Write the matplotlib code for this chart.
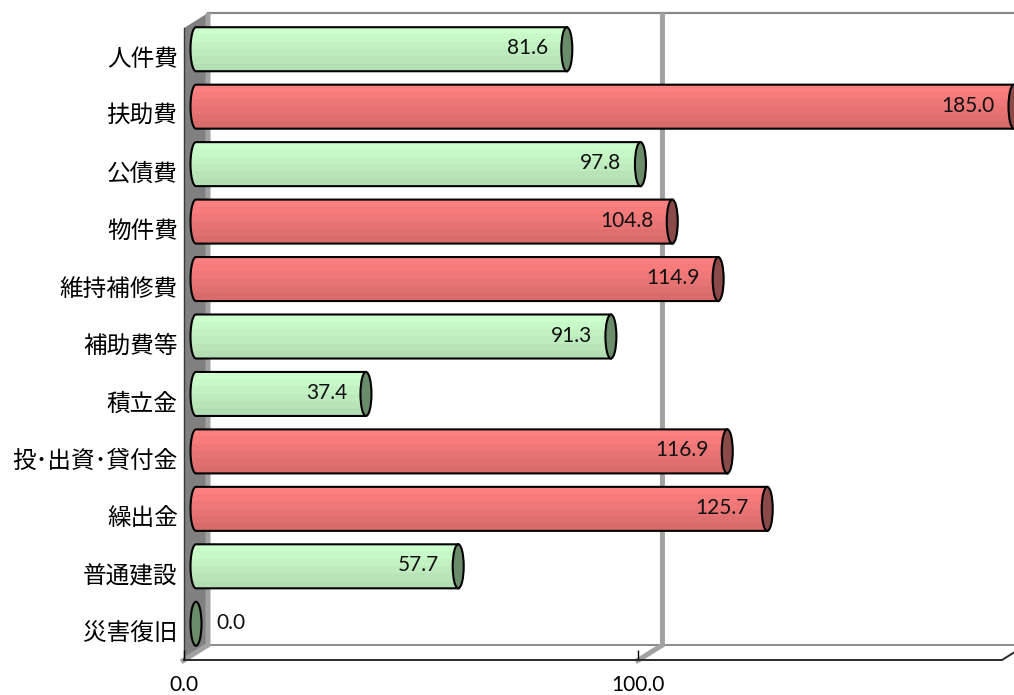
import numpy as np
import matplotlib
matplotlib.use("Agg")
import matplotlib.pyplot as plt
from matplotlib.patches import Polygon, Ellipse, Rectangle
from matplotlib.lines import Line2D
from matplotlib.transforms import IdentityTransform

# ---- data -------------------------------------------------------------
categories = ["人件費", "扶助費", "公債費", "物件費", "維持補修費", "補助費等",
              "積立金", "投･出資･貸付金", "繰出金", "普通建設", "災害復旧"]
values = [81.6, 185.0, 97.8, 104.8, 114.9, 91.3, 37.4, 116.9, 125.7, 57.7, 0.0]
x_ticks = [0, 100]
x_tick_labels = ["0.0", "100.0"]
x_max = 180

# ---- style ------------------------------------------------------------
CJK = ["Noto Sans CJK JP", "DejaVu Sans"]
NUM = ["Lato", "DejaVu Sans"]
GREEN_TOP, GREEN_BOT, GREEN_CAP = (0.80, 1.00, 0.80), (0.70, 0.87, 0.70), "#6b8c6b"
RED_TOP, RED_BOT, RED_CAP = (1.00, 0.50, 0.50), (0.85, 0.42, 0.42), "#8a4a4a"
DEPTH = np.array([24.0, 15.0])   # pixel shift from front plane to back wall
BAR_REL_H = 0.766
CAP_RX = 5.5
N_BANDS = 6

W, H, DPI = 1014, 695, 100
fig = plt.figure(figsize=(W / DPI, H / DPI), dpi=DPI)
ax = fig.add_axes([184 / W, 35 / H, 818 / W, 632 / H])
n = len(categories)
ax.set_xlim(0, x_max)
ax.set_ylim(n - 0.5, -0.5)
for s in ax.spines.values():
    s.set_visible(False)
ax.patch.set_visible(False)

ax.set_yticks(range(n))
ax.set_yticklabels(categories, fontsize=17, family=CJK)
ax.tick_params(axis="y", length=0, pad=4.5)
ax.set_xticks(x_ticks)
ax.set_xticklabels(x_tick_labels, fontsize=15, family=NUM)
ax.tick_params(axis="x", direction="in", length=7, width=1, color="black", pad=11)

ID = IdentityTransform()


def P(x, y, d=0.0):
    px, py = ax.transData.transform((x, y))
    return np.array([px, py]) + d * DEPTH


def add(artist):
    ax.add_artist(artist)
    artist.set_clip_box(None)
    artist.set_clip_path(None)
    return artist


def polyline(pts, **kw):
    pts = np.asarray(pts)
    return add(Line2D(pts[:, 0], pts[:, 1], transform=ID, **kw))


top, bot = -0.5, n - 0.5

# left wall
add(Polygon([P(0, top, 0), P(0, top, 1), P(0, bot, 1), P(0, bot, 0)],
            closed=True, facecolor="#808080", edgecolor="none",
            transform=ID, zorder=1))
polyline([P(0, top, 0), P(0, bot, 0)], color="#3a3a3a", lw=1.0, zorder=1.5)

# back wall edges and floor
polyline([P(0, top, 1), P(x_max, top, 1)], color="#8a8a8a", lw=1.6, zorder=1)
polyline([P(0, bot, 1), P(x_max, bot, 1)], color="#8a8a8a", lw=1.4, zorder=1)
polyline([P(0, bot, 0), P(x_max, bot, 0), P(x_max, bot, 0.5)],
         color="#2a2a2a", lw=1.4, zorder=1.6)

# gridlines: vertical on the back wall, diagonal across the floor
for t in x_ticks:
    polyline([P(t, top, 1), P(t, bot, 1), P(t, bot, -0.12)],
             color="#a2a2a2", lw=3.6, solid_joinstyle="miter",
             solid_capstyle="butt", zorder=1.2)

# cylinders
for i, v in enumerate(values):
    red = v > 100
    c_top, c_bot, c_cap = (RED_TOP, RED_BOT, RED_CAP) if red else (GREEN_TOP, GREEN_BOT, GREEN_CAP)
    x0, cy = P(0, i, 0.5)
    x1 = P(min(v, x_max), i, 0.5)[0]
    hh = abs(P(0, i + BAR_REL_H / 2)[1] - P(0, i - BAR_REL_H / 2)[1]) / 2
    if x1 - x0 > 0.5:
        th = np.linspace(np.pi / 2, 3 * np.pi / 2, 40)
        arc = np.column_stack([x0 + CAP_RX * np.cos(th), cy + hh * np.sin(th)])
        outline = np.vstack([[x1, cy + hh], arc, [x1, cy - hh]])
        body = add(Polygon(outline, closed=True, facecolor="none", edgecolor="none",
                           transform=ID, zorder=3))
        band_h = 2 * hh / N_BANDS
        for k in range(N_BANDS):
            f = k / (N_BANDS - 1)
            col = tuple(np.array(c_top) * (1 - f) + np.array(c_bot) * f)
            r = add(Rectangle((x0 - CAP_RX - 1, cy + hh - (k + 1) * band_h - 0.3),
                              x1 - x0 + CAP_RX + 2, band_h + 0.6,
                              facecolor=col, edgecolor="none", transform=ID, zorder=3))
            r.set_clip_on(True)
            r.set_clip_path(body)
        polyline(outline, color="black", lw=1.5, zorder=4)
    add(Ellipse((x1, cy), 2 * CAP_RX, 2 * hh, facecolor=c_cap,
                edgecolor="black", lw=1.5, transform=ID, zorder=5))
    if x1 - x0 > 40:
        ax.text(x1 - 19, cy + 1, f"{v:.1f}", ha="right", va="center",
                fontsize=15, family=NUM, color="#111111", transform=ID, zorder=6)
    else:
        ax.text(x1 + 20, cy + 1, f"{v:.1f}", ha="left", va="center",
                fontsize=15, family=NUM, color="#111111", transform=ID, zorder=6)

fig.savefig("out.png", dpi=DPI)
